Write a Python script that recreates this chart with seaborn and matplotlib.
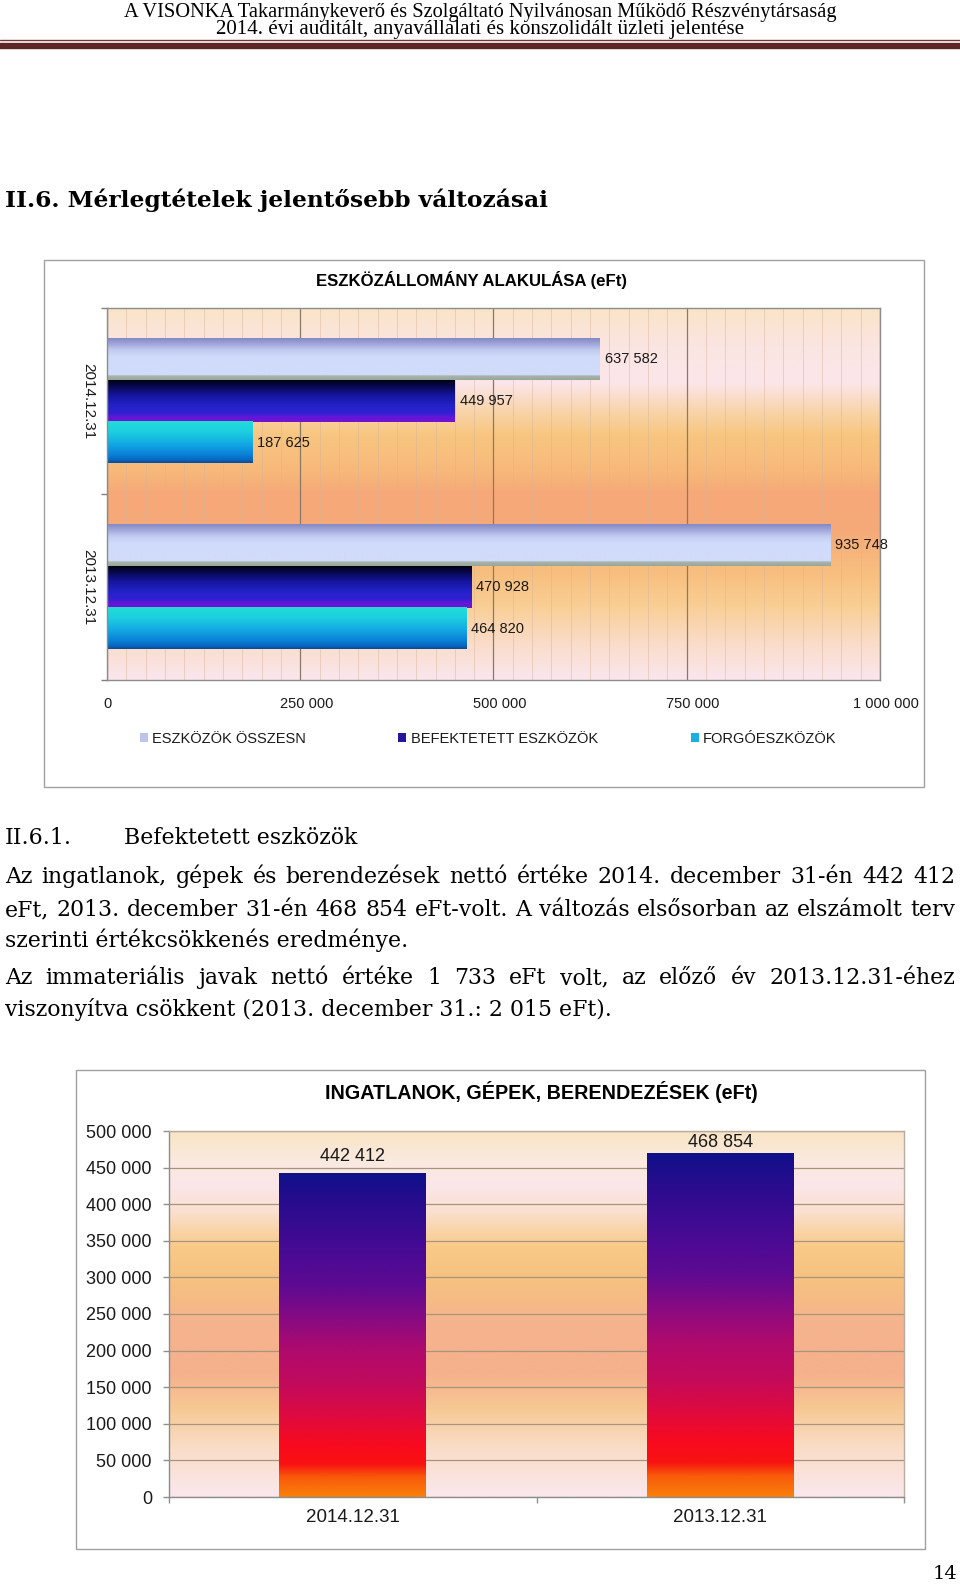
import numpy as np
import pandas as pd
import matplotlib
matplotlib.use("Agg")
import matplotlib.pyplot as plt
import seaborn as sns
from matplotlib.colors import LinearSegmentedColormap
from matplotlib.patches import Rectangle, Patch
from matplotlib.lines import Line2D
from matplotlib.ticker import MultipleLocator, FixedLocator
import matplotlib.transforms as mtransforms

# ---------------- data ----------------
dates = ["2014.12.31", "2013.12.31"]
series = ["ESZKÖZÖK ÖSSZESN", "BEFEKTETETT ESZKÖZÖK", "FORGÓESZKÖZÖK"]
osszesen = [637582, 935748]
befektetett = [449957, 470928]
forgo = [187625, 464820]
ingatlan = [442412, 468854]

title1 = "ESZKÖZÁLLOMÁNY ALAKULÁSA (eFt)"
title2 = "INGATLANOK, GÉPEK, BERENDEZÉSEK (eFt)"
xticks1 = [0, 250000, 500000, 750000, 1000000]
yticks2 = [0, 50000, 100000, 150000, 200000, 250000, 300000, 350000, 400000, 450000, 500000]

header1 = "A VISONKA Takarmánykeverő és Szolgáltató Nyilvánosan Működő Részvénytársaság"
header2 = "2014. évi auditált, anyavállalati és konszolidált üzleti jelentése"
heading = "II.6. Mérlegtételek jelentősebb változásai"
sub_no = "II.6.1."
sub_title = "Befektetett eszközök"
body = [
    ("Az ingatlanok, gépek és berendezések nettó értéke 2014. december 31-én 442 412", True),
    ("eFt, 2013. december 31-én 468 854 eFt-volt. A változás elsősorban az elszámolt terv", True),
    ("szerinti értékcsökkenés eredménye.", False),
    ("Az immateriális javak nettó értéke 1 733 eFt volt, az előző év 2013.12.31-éhez", True),
    ("viszonyítva csökkent (2013. december 31.: 2 015 eFt).", False),
]
page_no = "14"


def fmt(v):
    return f"{int(v):,}".replace(",", " ")


# ---------------- setup ----------------
sns.set_theme(style="white")
plt.rcParams["font.family"] = ["Liberation Sans", "DejaVu Sans"]
W, H = 960, 1584
fig = plt.figure(figsize=(9.6, 15.84), dpi=100)
fig.patch.set_facecolor("white")


def fx(px):
    return px / W


def fy(py):
    return 1 - py / H


renderer = fig.canvas.get_renderer()
TXT = "#1a1a1a"


def fit_text(x, y, s, target_w, family, weight="normal", ha="left", va="baseline", size0=12):
    t = fig.text(fx(x), fy(y), s, fontsize=size0, family=family, weight=weight,
                 ha=ha, va=va, color="black")
    w = t.get_window_extent(renderer).width
    t.set_fontsize(size0 * target_w / w)
    return t


def grad_cmap(stops):
    return LinearSegmentedColormap.from_list("g", stops)


GRAD = np.linspace(0, 1, 256).reshape(-1, 1)

# ---------------- page header ----------------
fit_text(480.5, 17, header1, 709, ["Liberation Serif", "DejaVu Serif"], ha="center")
fit_text(480, 34, header2, 526, ["Liberation Serif", "DejaVu Serif"], ha="center")
fig.add_artist(Line2D([0, 1], [fy(40.2)] * 2, color="#7a3434", lw=1.0, transform=fig.transFigure))
fig.add_artist(Line2D([0, 1], [fy(45.5)] * 2, color="#5c2626", lw=4.6, transform=fig.transFigure))

# section heading
fit_text(5, 207, heading, 543, ["DejaVu Serif"], weight="bold")

# ---------------- chart 1 box ----------------
fig.add_artist(Rectangle((fx(44), fy(787)), fx(924 - 44), (787 - 260) / H, transform=fig.transFigure,
                         fill=False, edgecolor="#a0a0a0", lw=1.0))
fit_text(471, 280, title1, 310, ["Liberation Sans", "DejaVu Sans"], weight="bold", ha="center", va="center")

ax1 = fig.add_axes([fx(107), fy(680), fx(880 - 107), (680 - 308) / H])
df1 = pd.DataFrame({
    "date": dates * 3,
    "series": [s for s in series for _ in dates],
    "value": osszesen + befektetett + forgo,
})
pal1 = ["#c0c8f0", "#2020a8", "#18a8e0"]
sns.barplot(data=df1, y="date", x="value", hue="series", order=dates, hue_order=series,
            orient="h", ax=ax1, width=0.67, palette=pal1, saturation=1, errorbar=None, legend=False)

bg1 = grad_cmap([(0, "#fae4c8"), (0.1, "#fbe5e2"), (0.2, "#fbe6ea"), (0.28, "#f9d4a8"),
                 (0.34, "#f8c680"), (0.44, "#f7b87a"), (0.5, "#f6a878"), (0.6, "#f6aa78"),
                 (0.72, "#f8c080"), (0.8, "#f9ce94"), (0.9, "#fadcc8"), (1, "#fbe6ee")])
ax1.imshow(GRAD, cmap=bg1, extent=(0, 1, 0, 1), transform=ax1.transAxes, origin="upper",
           aspect="auto", zorder=0, interpolation="bilinear")

stops1 = {
    "#c0c8f0": [(0, "#8488c4"), (0.12, "#9ca2d6"), (0.3, "#c4cef2"), (0.45, "#d0dafa"),
                (0.88, "#d2dcfa"), (0.9, "#a8b4b0"), (1, "#98a896")],
    "#2020a8": [(0, "#000010"), (0.15, "#080850"), (0.35, "#14149a"), (0.6, "#2222c8"),
                (0.78, "#3020d0"), (0.88, "#6018d8"), (1, "#7810d0")],
    "#18a8e0": [(0, "#22dcd6"), (0.25, "#1cd0e0"), (0.55, "#12a8e4"), (0.8, "#0a80d8"),
                (0.92, "#0868c0"), (1, "#0a4a98")],
}
for p in list(ax1.patches):
    fc = matplotlib.colors.to_hex(p.get_facecolor())
    if fc not in stops1 or p.get_width() <= 0:
        continue
    x0, y0 = p.get_x(), p.get_y()
    w, h = p.get_width(), p.get_height()
    ax1.imshow(GRAD, cmap=grad_cmap(stops1[fc]), extent=(x0, x0 + w, y0 + h, y0), origin="upper",
               aspect="auto", zorder=2, interpolation="bilinear")
    p.set_facecolor("none")
    p.set_edgecolor("none")
    ax1.annotate(fmt(w), (x0 + w, y0 + h / 2), xytext=(5, 0), textcoords="offset pixels",
                 ha="left", va="center", fontsize=10.5, color=TXT, zorder=5)

ax1.set_xlim(0, 1000000)
ax1.set_ylim(1.5, -0.5)
ax1.set_xlabel("")
ax1.set_ylabel("")
ax1.set_xticks(xticks1)
ax1.set_xticklabels([fmt(v) for v in xticks1])
ax1.xaxis.set_minor_locator(MultipleLocator(25000))
ax1.set_yticks([-0.5, 0.5, 1.5])
ax1.set_yticklabels(["", "", ""])
ax1.yaxis.set_minor_locator(FixedLocator([0, 1]))
ax1.set_yticklabels(dates, minor=True, rotation=-90, va="center", ha="right")
ax1.tick_params(axis="x", which="both", length=0, pad=12, labelsize=10.5, labelcolor=TXT)
ax1.tick_params(axis="y", which="major", length=4.3, width=1, color="#808080", left=True)
ax1.tick_params(axis="y", which="minor", length=0, pad=8.5, labelsize=11, labelcolor=TXT, left=True)
ax1.set_axisbelow(True)
ax1.grid(which="minor", axis="x", color="#d4b49c", lw=0.6, alpha=0.55)
ax1.grid(which="major", axis="x", color="#8a7868", lw=0.9)
ax1.grid(which="both", axis="y", visible=False)
for s in ax1.spines.values():
    s.set_visible(True)
    s.set_color("#8c8c8c")
    s.set_linewidth(1.0)

# nudge non-zero x labels slightly right as in reference
shift = mtransforms.ScaledTranslation(6 / 100, 0, fig.dpi_scale_trans)
for t in ax1.xaxis.get_major_ticks()[1:]:
    t.label1.set_transform(t.label1.get_transform() + shift)

handles = [Patch(facecolor=c, edgecolor="none") for c in ["#bcc4ec", "#22189e", "#1aaee2"]]
ax1.legend(handles, series, loc="center", bbox_to_anchor=(fx(488), fy(739)),
           bbox_transform=fig.transFigure, ncol=3, frameon=False, fontsize=10.5,
           handlelength=0.55, handleheight=0.55, handletextpad=0.3, columnspacing=6.35,
           labelcolor=TXT)

# ---------------- body text ----------------
BODY_FAM = ["DejaVu Serif"]
tmp = fit_text(5, 1013, body[4][0], 605, BODY_FAM)
body_size = tmp.get_fontsize()
tmp.remove()

fig.text(fx(5), fy(844), sub_no, fontsize=body_size, family=BODY_FAM, color="black", va="baseline")
fig.text(fx(124), fy(844), sub_title, fontsize=body_size, family=BODY_FAM, color="black", va="baseline")

baselines = [883, 916, 947, 984, 1016]


def justify(line, y, x0=5, x1=955):
    words = line.split(" ")
    texts = [fig.text(0, fy(y), w_, fontsize=body_size, family=BODY_FAM, color="black",
                      va="baseline", ha="left") for w_ in words]
    widths = [t.get_window_extent(renderer).width for t in texts]
    gap = (x1 - x0 - sum(widths)) / (len(words) - 1)
    x = x0
    for t, w_ in zip(texts, widths):
        t.set_x(fx(x))
        x += w_ + gap


for (line, just), yb in zip(body, baselines):
    if just:
        justify(line, yb)
    else:
        fig.text(fx(5), fy(yb), line, fontsize=body_size, family=BODY_FAM, color="black", va="baseline")

# ---------------- chart 2 ----------------
fig.add_artist(Rectangle((fx(76), fy(1549)), fx(925 - 76), (1549 - 1070) / H, transform=fig.transFigure,
                         fill=False, edgecolor="#a0a0a0", lw=1.0))
fit_text(541, 1092, title2, 431, ["Liberation Sans", "DejaVu Sans"], weight="bold", ha="center", va="center")

ax2 = fig.add_axes([fx(169), fy(1497), fx(904 - 169), (1497 - 1131) / H])
df2 = pd.DataFrame({"date": dates, "value": ingatlan})
sns.barplot(data=df2, x="date", y="value", order=dates, ax=ax2, width=0.4, color="#5a0a90",
            saturation=1, errorbar=None)

bg2 = grad_cmap([(0, "#f9e4c4"), (0.08, "#faeadf"), (0.15, "#fbe6ea"), (0.22, "#fae0d0"),
                 (0.32, "#f8ca86"), (0.42, "#f6c080"), (0.52, "#f5b48e"), (0.66, "#f5b08c"),
                 (0.76, "#f7c894"), (0.86, "#f9dcc4"), (1, "#fbe8ee")])
ax2.imshow(GRAD, cmap=bg2, extent=(0, 1, 0, 1), transform=ax2.transAxes, origin="upper",
           aspect="auto", zorder=0, interpolation="bilinear")

bar2 = grad_cmap([(0, "#10108a"), (0.1, "#2a0c8e"), (0.25, "#4a0a94"), (0.35, "#5e0a92"),
                  (0.45, "#880a82"), (0.55, "#b00a6c"), (0.65, "#c20a5c"), (0.75, "#de0a40"),
                  (0.84, "#f80a1e"), (0.9, "#f81212"), (0.94, "#f85a0a"), (1, "#fa800a")])
label_offsets = [17, 11]
for p, off in zip(list(ax2.patches), label_offsets):
    x0, w, h = p.get_x(), p.get_width(), p.get_height()
    ax2.imshow(GRAD, cmap=bar2, extent=(x0, x0 + w, 0, h), origin="upper", aspect="auto",
               zorder=2, interpolation="bilinear")
    p.set_facecolor("none")
    p.set_edgecolor("none")
    ax2.annotate(fmt(h), (x0 + w / 2, h), xytext=(0, off), textcoords="offset pixels",
                 ha="center", va="center", fontsize=13, color=TXT, zorder=5)

ax2.set_xlim(-0.5, 1.5)
ax2.set_ylim(0, 500000)
ax2.set_xlabel("")
ax2.set_ylabel("")
ax2.set_yticks(yticks2)
ax2.set_yticklabels([fmt(v) for v in yticks2])
ax2.set_xticks([-0.5, 0.5, 1.5])
ax2.set_xticklabels(["", "", ""])
ax2.xaxis.set_minor_locator(FixedLocator([0, 1]))
ax2.set_xticklabels(dates, minor=True)
ax2.tick_params(axis="x", which="major", length=4.3, width=1, color="#909090", bottom=True)
ax2.tick_params(axis="x", which="minor", length=0, pad=9, labelsize=13.5, labelcolor=TXT, bottom=True)
ax2.tick_params(axis="y", which="major", length=4.3, width=1, color="#909090", pad=8,
                labelsize=13, labelcolor=TXT, left=True)
ax2.set_axisbelow(True)
ax2.grid(which="major", axis="y", color="#a8947e", lw=0.9)
ax2.grid(which="both", axis="x", visible=False)
for name, s in ax2.spines.items():
    s.set_visible(True)
    s.set_linewidth(1.0)
    s.set_color("#8c8c8c" if name in ("left", "bottom") else "#b8aca0")

# page number
fig.text(fx(957), fy(1574), page_no, fontsize=14, family=["DejaVu Serif"], color="black",
         ha="right", va="center")

fig.savefig("out.png", dpi=100)
